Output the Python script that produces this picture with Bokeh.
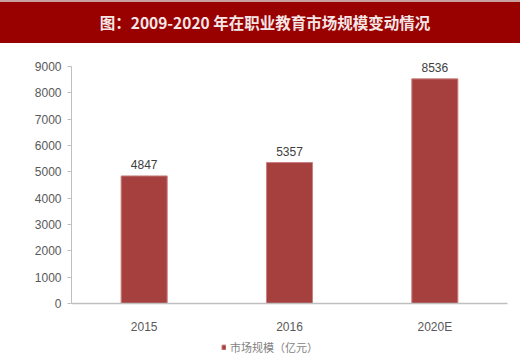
from bokeh.plotting import figure
from bokeh.models import ColumnDataSource, Div, Legend, LegendItem, Range1d, FixedTicker, LabelSet
from bokeh.core.properties import value
from bokeh.layouts import column
from bokeh.embed import file_html
from bokeh.resources import INLINE

title_text = "图：2009-2020 年在职业教育市场规模变动情况"
categories = ["2015", "2016", "2020E"]
values = [4847, 5357, 8536]
y_ticks = [0, 1000, 2000, 3000, 4000, 5000, 6000, 7000, 8000, 9000]
series_name = "市场规模（亿元）"

W = 520
BAR_FILL = "#A5403F"
BAR_LINE = "#c98080"

banner = Div(
    text=f'<div style="box-sizing:border-box;width:{W}px;height:43px;line-height:41px;background:#990000;'
         f'border-top:2px solid #c8a0a0;padding-left:10px;'
         f'color:#f5e6e6;font-weight:bold;font-size:15.5px;text-align:center;'
         f'font-family:\'Noto Sans CJK SC\';">{title_text}</div>',
    width=W, height=43, margin=(0, 0, 0, 0),
)

src = ColumnDataSource(dict(x=categories, top=values, label=[str(v) for v in values]))

p = figure(x_range=categories, y_range=Range1d(0, 9500), width=W, height=296,
           output_backend="svg", toolbar_location=None, margin=(0, 0, 0, 0),
           min_border_left=71, min_border_right=13, min_border_top=10, min_border_bottom=36)
p.outline_line_color = None
p.xgrid.grid_line_color = None
p.ygrid.grid_line_color = None

r = p.vbar(x="x", top="top", width=0.317, source=src, fill_color=BAR_FILL,
           line_color=BAR_LINE, line_width=1)

labels = LabelSet(x="x", y="top", text="label", source=src, text_align="center",
                  text_baseline="bottom", y_offset=7, text_font_size=value("12px"),
                  text_color=value("#404040"), text_font=value("Liberation Sans"))
p.add_layout(labels)

p.yaxis.ticker = FixedTicker(ticks=y_ticks)
p.yaxis.bounds = (0, 9000)
p.yaxis.axis_line_color = "#bfbfbf"
p.yaxis.major_tick_line_color = "#bfbfbf"
p.yaxis.major_tick_in = 0
p.yaxis.major_tick_out = 4
p.yaxis.minor_tick_line_color = None
p.yaxis.major_label_text_font_size = "12px"
p.yaxis.major_label_text_color = "#595959"
p.yaxis.major_label_text_font = "Liberation Sans"
p.yaxis.major_label_standoff = 6

p.xaxis.axis_line_color = "#bfbfbf"
p.xaxis.axis_line_width = 1.5
p.xaxis.major_tick_line_color = None
p.xaxis.minor_tick_line_color = None
p.xaxis.major_label_text_font_size = "12px"
p.xaxis.major_label_text_color = "#595959"
p.xaxis.major_label_text_font = "Liberation Sans"
p.xaxis.major_label_standoff = 10

# legend strip: a small figure whose frame holds only the legend
# (its y range lies far above the data, so its own bars fall outside the canvas)
lg = figure(x_range=categories, y_range=Range1d(100000, 100001), width=W, height=18,
            output_backend="svg", toolbar_location=None, margin=(0, 0, 0, 0),
            min_border=0, min_border_left=0, min_border_right=0,
            min_border_top=0, min_border_bottom=0)
lg.axis.visible = False
lg.grid.visible = False
lg.outline_line_color = None
lr = lg.vbar(x="x", top="top", width=0.317, source=src, fill_color=BAR_FILL,
             line_color=BAR_LINE, line_width=1)
legend = Legend(items=[LegendItem(label=series_name, renderers=[lr])],
                location=(150, 2), orientation="horizontal",
                label_text_font_size="11px", label_text_color="#7f7f7f",
                label_text_font="Noto Sans CJK SC",
                glyph_width=5, glyph_height=6, padding=0, margin=0,
                label_standoff=4, border_line_alpha=0, background_fill_alpha=0)
lg.add_layout(legend)

layout = column(banner, p, lg, spacing=0)
open("out.html", "w").write(file_html(layout, INLINE))
